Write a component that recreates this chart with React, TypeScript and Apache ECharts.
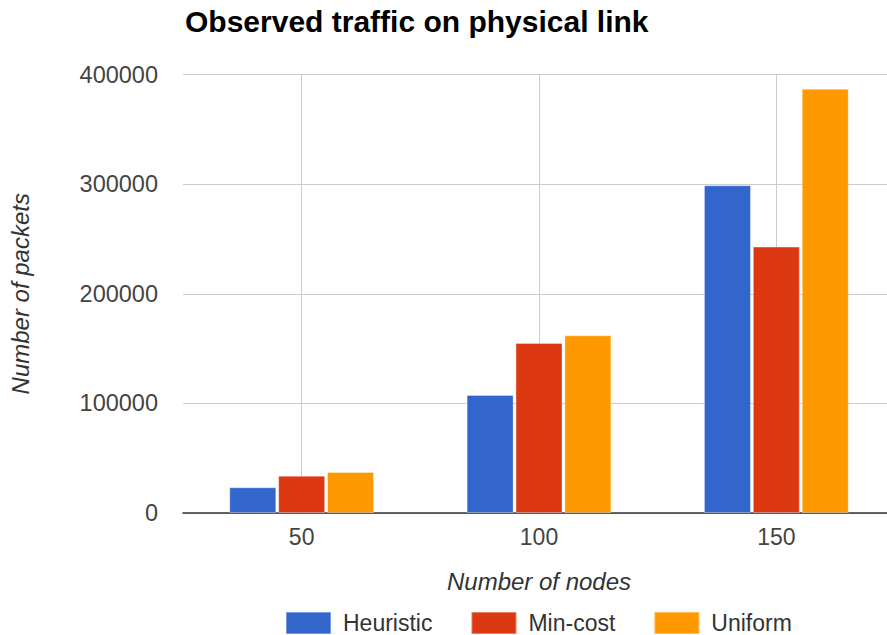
import React, { useEffect, useRef } from "react";
import * as echarts from "echarts";

const categories = ["50", "100", "150"];
const seriesNames = ["Heuristic", "Min-cost", "Uniform"];
const heuristic = [23500, 107700, 299000];
const minCost = [34000, 155100, 243000];
const uniform = [37400, 162100, 387000];
const colors = ["#3366cc", "#dc3912", "#ff9900"];

const FONT = "'Liberation Sans', Arial, sans-serif";

export default function App() {
  const ref = useRef<HTMLDivElement>(null);
  useEffect(() => {
    if (!ref.current) return;
    const chart = echarts.init(ref.current, undefined, { renderer: "svg" });
    const values = [heuristic, minCost, uniform];
    chart.setOption({
      animation: false,
      backgroundColor: "#ffffff",
      title: {
        text: "Observed traffic on physical link",
        left: 180,
        top: 1,
        textStyle: { fontFamily: FONT, fontSize: 30, fontWeight: "bold", color: "#000" },
      },
      legend: {
        left: 285,
        top: 611,
        padding: 0,
        itemWidth: 45,
        itemHeight: 22,
        itemGap: 38,
        icon: "rect",
        data: seriesNames,
        textStyle: { fontFamily: FONT, fontSize: 23, lineHeight: 22, color: "#333", padding: [0, 0, 0, 7] },
      },
      grid: { left: 183, top: 74.5, width: 712, height: 438.5 },
      xAxis: {
        type: "category",
        data: categories,
        name: "Number of nodes",
        nameLocation: "middle",
        nameGap: 56,
        nameTextStyle: { fontFamily: FONT, fontSize: 24, fontStyle: "italic", color: "#333" },
        axisLine: { show: true, lineStyle: { color: "#333", width: 1.5 } },
        axisTick: { show: false, alignWithLabel: true },
        axisLabel: { fontFamily: FONT, fontSize: 23, color: "#444", margin: 12 },
        splitLine: { show: true, alignWithLabel: true, lineStyle: { color: "#cccccc", width: 1 } },
      },
      yAxis: {
        type: "value",
        min: 0,
        max: 400000,
        interval: 100000,
        name: "Number of packets",
        nameLocation: "middle",
        nameGap: 151,
        nameTextStyle: { fontFamily: FONT, fontSize: 24, fontStyle: "italic", color: "#333" },
        axisLine: { show: false },
        axisTick: { show: false },
        axisLabel: {
          fontFamily: FONT,
          fontSize: 23.5,
          color: "#444",
          margin: 25,
          formatter: (v: number) => String(v),
        },
        splitLine: { show: true, lineStyle: { color: "#cccccc", width: 1 } },
      },
      series: seriesNames.map((name, i) => ({
        name,
        type: "bar",
        data: values[i],
        barWidth: 47,
        barGap: "4%",
        itemStyle: { color: colors[i], borderColor: "rgba(255,255,255,0.35)", borderWidth: 1 },
      })),
    });
    return () => chart.dispose();
  }, []);
  return (
    <div style={{ position: "fixed", left: 0, top: 0, width: 887, height: 635, overflow: "hidden" }}>
      <div ref={ref} style={{ position: "absolute", left: 0, top: 0, width: 910, height: 635 }} />
    </div>
  );
}
